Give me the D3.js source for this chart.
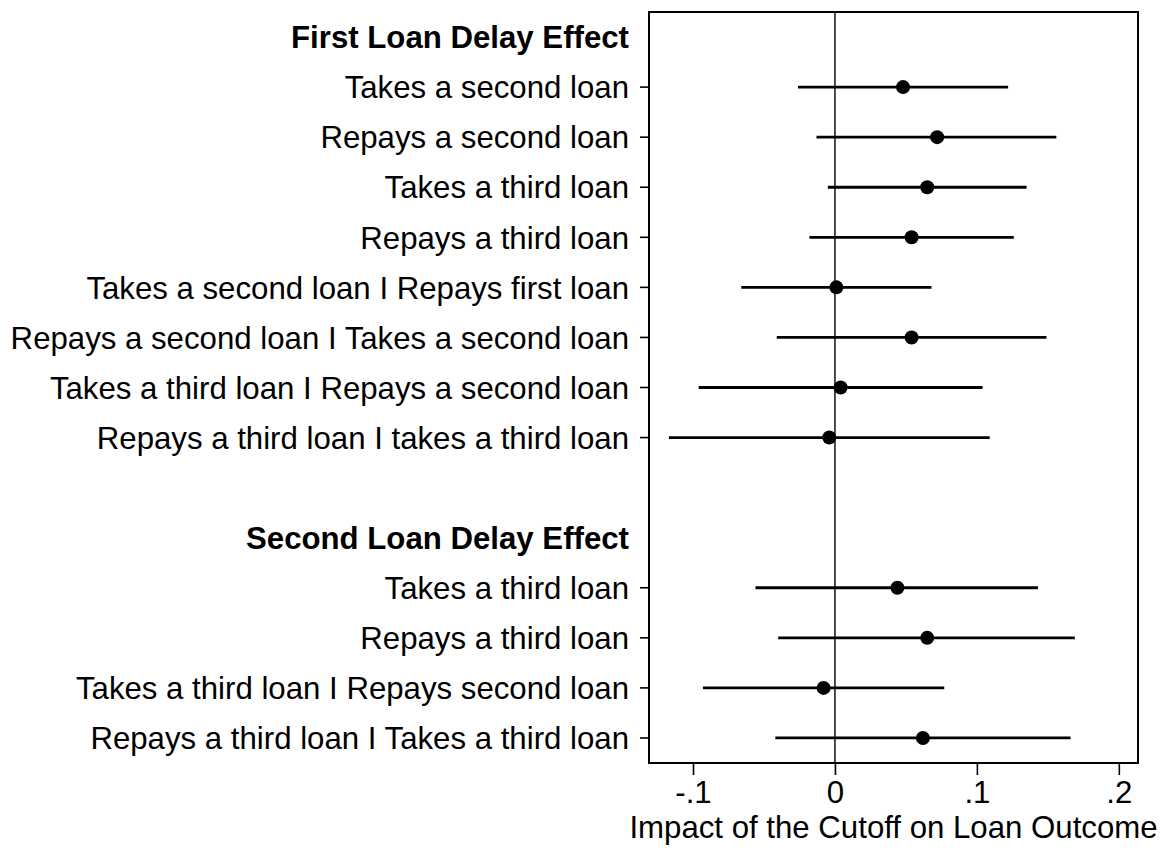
<!DOCTYPE html>
<html>
<head>
<meta charset="utf-8">
<script src="https://cdn.jsdelivr.net/npm/d3@7"></script>
<style>
  html, body { margin: 0; padding: 0; background: #fff; }
  svg { display: block; font-family: "Liberation Sans", Arial, Helvetica, sans-serif; }
</style>
</head>
<body>
<svg id="chart" width="1169" height="848"></svg>
<script>
// ---- data ----
const headers = ["First Loan Delay Effect", "Second Loan Delay Effect"];

const firstLabels = [
  "Takes a second loan",
  "Repays a second loan",
  "Takes a third loan",
  "Repays a third loan",
  "Takes a second loan I Repays first loan",
  "Repays a second loan I Takes a second loan",
  "Takes a third loan I Repays a second loan",
  "Repays a third loan I takes a third loan"
];
const firstEst = [0.048, 0.072, 0.065, 0.054, 0.001, 0.054, 0.004, -0.004];
const firstLo  = [-0.026, -0.013, -0.005, -0.018, -0.066, -0.041, -0.096, -0.117];
const firstHi  = [0.122, 0.156, 0.135, 0.126, 0.068, 0.149, 0.104, 0.109];

const secondLabels = [
  "Takes a third loan",
  "Repays a third loan",
  "Takes a third loan I Repays second loan",
  "Repays a third loan I Takes a third loan"
];
const secondEst = [0.044, 0.065, -0.008, 0.062];
const secondLo  = [-0.056, -0.040, -0.093, -0.042];
const secondHi  = [0.143, 0.169, 0.077, 0.166];

const xTicks = [-0.1, 0, 0.1, 0.2];
const xTickLabels = ["-.1", "0", ".1", ".2"];
const xTitle = "Impact of the Cutoff on Loan Outcome";

// ---- build row list (header, items, blank, header, items) ----
const rows = [];
rows.push({type: "header", label: headers[0]});
firstLabels.forEach((l, i) => rows.push({type: "item", label: l, est: firstEst[i], lo: firstLo[i], hi: firstHi[i]}));
rows.push({type: "blank", label: ""});
rows.push({type: "header", label: headers[1]});
secondLabels.forEach((l, i) => rows.push({type: "item", label: l, est: secondEst[i], lo: secondLo[i], hi: secondHi[i]}));
rows.forEach((r, i) => r.idx = i);

// ---- layout ----
const plot = {left: 649, right: 1138, top: 12, bottom: 763};
const fontSize = 31.2;

const svg = d3.select("#chart");

const x = d3.scaleLinear().domain([-0.131, 0.2135]).range([plot.left, plot.right]);
const y = d3.scaleBand().domain(rows.map(r => r.idx)).range([plot.top, plot.bottom]).padding(0);
const yc = i => y(i) + y.bandwidth() / 2;

// zero reference line
svg.append("line")
  .attr("x1", x(0)).attr("x2", x(0))
  .attr("y1", plot.top).attr("y2", plot.bottom)
  .attr("stroke", "#000").attr("stroke-width", 1.4);

// CI lines
const items = rows.filter(r => r.type === "item");
svg.append("g").selectAll("line").data(items).join("line")
  .attr("x1", d => x(d.lo)).attr("x2", d => x(d.hi))
  .attr("y1", d => yc(d.idx)).attr("y2", d => yc(d.idx))
  .attr("stroke", "#000").attr("stroke-width", 2.8);

// points
svg.append("g").selectAll("circle").data(items).join("circle")
  .attr("cx", d => x(d.est)).attr("cy", d => yc(d.idx))
  .attr("r", 7).attr("fill", "#000");

// frame
svg.append("rect")
  .attr("x", plot.left).attr("y", plot.top)
  .attr("width", plot.right - plot.left).attr("height", plot.bottom - plot.top)
  .attr("fill", "none").attr("stroke", "#000").attr("stroke-width", 2);

// y ticks (only item rows)
svg.append("g").selectAll("line").data(items).join("line")
  .attr("x1", plot.left - 9).attr("x2", plot.left)
  .attr("y1", d => yc(d.idx)).attr("y2", d => yc(d.idx))
  .attr("stroke", "#000").attr("stroke-width", 1.6);

// y labels
svg.append("g").selectAll("text").data(rows.filter(r => r.type !== "blank")).join("text")
  .attr("x", plot.left - 20)
  .attr("y", d => yc(d.idx))
  .attr("dy", "0.36em")
  .attr("text-anchor", "end")
  .attr("font-size", fontSize)
  .attr("font-weight", d => d.type === "header" ? "bold" : "normal")
  .attr("fill", "#000")
  .text(d => d.label);

// x axis
const xAxis = d3.axisBottom(x)
  .tickValues(xTicks)
  .tickFormat((d, i) => xTickLabels[i])
  .tickSize(12)
  .tickPadding(6);
const gx = svg.append("g")
  .attr("transform", `translate(0,${plot.bottom})`)
  .call(xAxis);
gx.select(".domain").remove();
gx.selectAll(".tick line").attr("stroke", "#000").attr("stroke-width", 1.6);
gx.selectAll(".tick text")
  .attr("font-size", fontSize)
  .attr("font-family", "\"Liberation Sans\", Arial, Helvetica, sans-serif")
  .attr("fill", "#000");

// x title
svg.append("text")
  .attr("x", (plot.left + plot.right) / 2)
  .attr("y", 838)
  .attr("text-anchor", "middle")
  .attr("font-size", fontSize)
  .attr("fill", "#000")
  .text(xTitle);
</script>
</body>
</html>
